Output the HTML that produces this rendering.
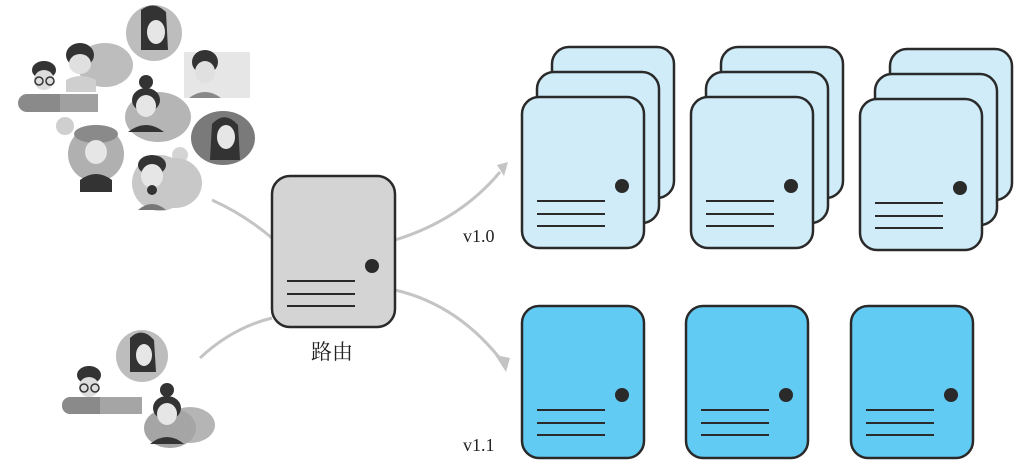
<!DOCTYPE html>
<html><head><meta charset="utf-8"><style>
body{margin:0;background:#fff;width:1029px;height:463px;overflow:hidden}
svg{display:block}
text{font-family:"Liberation Serif","Noto Serif CJK SC",serif}
</style></head><body>
<svg width="1029" height="463" viewBox="0 0 1029 463" xmlns="http://www.w3.org/2000/svg">
<defs>
<g id="srvL">
<rect x="0" y="0" width="122" height="151" rx="17" fill="#d0ecf9" stroke="#2a2a2a" stroke-width="2.5"/>
</g>
<g id="det">
<circle cx="100" cy="89" r="7" fill="#2a2a2a"/>
<path d="M15 104H83M15 117H83M15 129H83" stroke="#2a2a2a" stroke-width="2"/>
</g>
</defs>

<!-- connectors -->
<g fill="none" stroke="#c4c4c4" stroke-width="3">
<path d="M212 200 Q245 215 272 238"/>
<path d="M200 358 Q232 328 272 318"/>
<path d="M395 240 Q460 220 500 172"/>
<path d="M395 290 Q460 305 505 365"/>
</g>
<polygon points="506,372 495,355 510,358" fill="#c4c4c4"/>
<polygon points="497,165 508,162 504,176" fill="#c4c4c4"/>

<!-- router -->
<rect x="272" y="176" width="123" height="151" rx="18" fill="#d4d4d4" stroke="#2a2a2a" stroke-width="2.5"/>
<circle cx="372" cy="266" r="7" fill="#2a2a2a"/>
<path d="M287 281H355M287 294H355M287 306H355" stroke="#2a2a2a" stroke-width="2"/>
<text x="332" y="359" font-size="21" text-anchor="middle" fill="#222">路由</text>

<!-- v1.0 groups -->
<g transform="translate(522,97)">
<use href="#srvL" x="30" y="-50"/><use href="#srvL" x="15" y="-25"/><use href="#srvL"/><use href="#det"/>
</g>
<g transform="translate(691,97)">
<use href="#srvL" x="30" y="-50"/><use href="#srvL" x="15" y="-25"/><use href="#srvL"/><use href="#det"/>
</g>
<g transform="translate(860,99)">
<use href="#srvL" x="30" y="-50"/><use href="#srvL" x="15" y="-25"/><use href="#srvL"/><use href="#det"/>
</g>
<text x="463" y="242" font-size="18" fill="#222">v1.0</text>

<!-- v1.1 -->
<g transform="translate(522,306)"><rect width="122" height="152" rx="17" fill="#62cbf3" stroke="#2a2a2a" stroke-width="2.5"/><use href="#det"/></g>
<g transform="translate(686,306)"><rect width="122" height="152" rx="17" fill="#62cbf3" stroke="#2a2a2a" stroke-width="2.5"/><use href="#det"/></g>
<g transform="translate(851,306)"><rect width="122" height="152" rx="17" fill="#62cbf3" stroke="#2a2a2a" stroke-width="2.5"/><use href="#det"/></g>
<text x="463" y="451" font-size="18" fill="#222">v1.1</text>

<!-- people top cluster -->
<g>
<ellipse cx="105" cy="65" rx="28" ry="22" fill="#bdbdbd"/>
<rect x="18" y="94" width="80" height="18" rx="9" fill="#8a8a8a"/>
<rect x="60" y="94" width="38" height="18" fill="#a0a0a0"/>
<circle cx="65" cy="126" r="9" fill="#cfcfcf"/>
<rect x="184" y="52" width="66" height="46" fill="#e6e6e6"/>
<ellipse cx="158" cy="117" rx="33" ry="25" fill="#b5b5b5"/>
<circle cx="180" cy="155" r="8" fill="#d4d4d4"/>
<ellipse cx="175" cy="183" rx="27" ry="25" fill="#c8c8c8"/>
<circle cx="154" cy="33" r="28" fill="#bdbdbd"/>
<path d="M141 10 Q154 0 166 12 L168 50 L141 50 Z" fill="#333"/>
<ellipse cx="156" cy="32" rx="9" ry="12" fill="#e6e6e6"/>
<ellipse cx="80" cy="55" rx="14" ry="12" fill="#333"/>
<ellipse cx="80" cy="64" rx="11" ry="10" fill="#e0e0e0"/>
<path d="M66 80 Q80 72 96 80 L96 92 L66 92Z" fill="#cfcfcf"/>
<ellipse cx="44" cy="70" rx="12" ry="9" fill="#333"/>
<ellipse cx="44" cy="80" rx="10" ry="10" fill="#ddd"/>
<circle cx="39" cy="81" r="4" fill="none" stroke="#333" stroke-width="1.5"/>
<circle cx="50" cy="81" r="4" fill="none" stroke="#333" stroke-width="1.5"/>
<ellipse cx="205" cy="62" rx="13" ry="12" fill="#333"/>
<ellipse cx="205" cy="72" rx="10" ry="11" fill="#e0e0e0"/>
<path d="M189 98 Q205 86 221 98Z" fill="#888"/>
<circle cx="146" cy="82" r="7" fill="#333"/>
<ellipse cx="146" cy="100" rx="14" ry="12" fill="#333"/>
<ellipse cx="146" cy="106" rx="10" ry="11" fill="#e6e6e6"/>
<path d="M128 132 Q146 118 164 132Z" fill="#333"/>
<ellipse cx="223" cy="138" rx="32" ry="27" fill="#7a7a7a"/>
<path d="M212 124 Q225 110 238 125 L240 160 L210 160Z" fill="#333"/>
<ellipse cx="226" cy="137" rx="9" ry="12" fill="#e6e6e6"/>
<circle cx="96" cy="154" r="28" fill="#b0b0b0"/>
<ellipse cx="96" cy="134" rx="22" ry="9" fill="#8a8a8a"/>
<ellipse cx="96" cy="152" rx="11" ry="12" fill="#e6e6e6"/>
<path d="M80 180 Q96 168 112 180 L112 192 L80 192Z" fill="#333"/>
<circle cx="160" cy="183" r="28" fill="#c8c8c8"/>
<ellipse cx="152" cy="165" rx="14" ry="10" fill="#333"/>
<ellipse cx="152" cy="176" rx="11" ry="12" fill="#e6e6e6"/>
<circle cx="152" cy="190" r="5" fill="#333"/>
<path d="M138 210 Q152 198 166 210Z" fill="#777"/>
</g>

<!-- people bottom cluster -->
<g>
<ellipse cx="142" cy="356" rx="26" ry="26" fill="#bdbdbd"/>
<path d="M130 338 Q142 326 154 340 L156 372 L130 372Z" fill="#333"/>
<ellipse cx="144" cy="355" rx="8" ry="11" fill="#e6e6e6"/>
<rect x="62" y="397" width="80" height="17" rx="8" fill="#8a8a8a"/>
<rect x="100" y="397" width="42" height="17" fill="#a5a5a5"/>
<ellipse cx="89" cy="375" rx="12" ry="9" fill="#333"/>
<ellipse cx="89" cy="387" rx="10" ry="10" fill="#ddd"/>
<circle cx="84" cy="388" r="4" fill="none" stroke="#333" stroke-width="1.5"/>
<circle cx="95" cy="388" r="4" fill="none" stroke="#333" stroke-width="1.5"/>
<ellipse cx="190" cy="425" rx="25" ry="18" fill="#b5b5b5"/>
<ellipse cx="170" cy="428" rx="26" ry="20" fill="#a5a5a5"/>
<circle cx="167" cy="390" r="7" fill="#333"/>
<ellipse cx="167" cy="408" rx="14" ry="12" fill="#333"/>
<ellipse cx="167" cy="414" rx="10" ry="11" fill="#e6e6e6"/>
<path d="M150 444 Q167 430 184 444Z" fill="#333"/>
</g>
</svg>
</body></html>
